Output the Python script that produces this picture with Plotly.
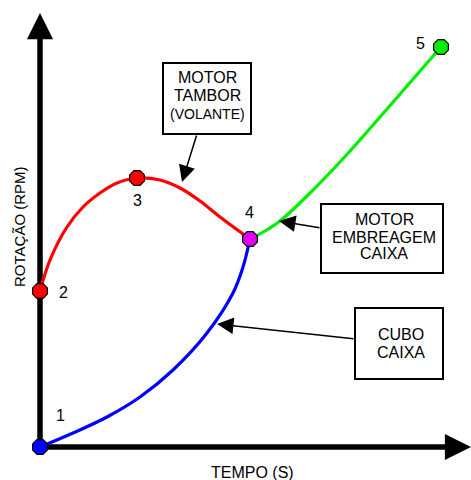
import plotly.graph_objects as go

# Curves (tempo, rotação)
red_t = [0, 10, 27, 43, 60, 77, 97, 120, 140, 160, 180, 210]
red_r = [156, 187, 220, 240, 254, 264, 269, 267, 259, 246, 230, 208]
blue_t = [0, 33, 67, 100, 133, 167, 193, 203, 210]
blue_r = [0, 14, 30, 50, 77, 114, 154, 180, 208]
green_t = [210, 225, 240, 267, 300, 333, 367, 401]
green_r = [208, 216, 226, 251, 285, 322, 361, 400]

# Numbered points
pt_labels = ["1", "2", "3", "4", "5"]
pt_t = [0, 0, 97, 210, 401]
pt_r = [0, 156, 269, 208, 400]
pt_colors = ["#0000FF", "#FF0000", "#FF0000", "#E000F0", "#00EE00"]
lbl_t = [20, 23, 97, 209, 380]
lbl_r = [32, 155, 247, 235, 404]

FONT = "Liberation Sans, Arial, sans-serif"

fig = go.Figure()
for t, r, c in [(red_t, red_r, "#FF0000"), (blue_t, blue_r, "#0000FF"), (green_t, green_r, "#00EE00")]:
    fig.add_trace(go.Scatter(x=t, y=r, mode="lines",
                             line=dict(color=c, width=3.2, shape="spline", smoothing=1.0),
                             hoverinfo="skip", cliponaxis=False))
fig.add_trace(go.Scatter(x=pt_t, y=pt_r, mode="markers",
                         marker=dict(size=16, color=pt_colors, symbol="octagon",
                                     line=dict(color="black", width=1.2)),
                         hoverinfo="skip", cliponaxis=False))

# axis lines
fig.add_shape(type="line", x0=0, y0=0, x1=0, y1=420, line=dict(color="black", width=5.5), layer="below")
fig.add_shape(type="line", x0=0, y0=0, x1=418, y1=0, line=dict(color="black", width=5.5), layer="below")
fig.add_annotation(x=0, y=434, ax=0, ay=410, xref="x", yref="y", axref="x", ayref="y",
                   showarrow=True, arrowhead=2, arrowwidth=5.5, arrowsize=0.95, arrowcolor="black", text="")
fig.add_annotation(x=431, y=0, ax=405, ay=0, xref="x", yref="y", axref="x", ayref="y",
                   showarrow=True, arrowhead=2, arrowwidth=5.5, arrowsize=0.95, arrowcolor="black", text="")

# axis titles
fig.add_annotation(x=-21, y=220, text="ROTAÇÃO (RPM)", textangle=-90, showarrow=False,
                   font=dict(family=FONT, size=15, color="black"))
fig.add_annotation(x=212, y=-25, text="TEMPO (S)", showarrow=False,
                   font=dict(family=FONT, size=16, color="black"))

# point labels
for s, t, r in zip(pt_labels, lbl_t, lbl_r):
    fig.add_annotation(x=t, y=r, text=s, showarrow=False, font=dict(family=FONT, size=16, color="black"))

# boxes
boxes = [(123, 313, 211, 384), (281, 174, 403, 243), (315, 68, 403, 139)]
for x0, y0, x1, y1 in boxes:
    fig.add_shape(type="rect", x0=x0, y0=y0, x1=x1, y1=y1, line=dict(color="black", width=2),
                  fillcolor="white")

box_texts = [
    ("MOTOR", 167, 370, 16), ("TAMBOR", 167, 352, 16), ("(VOLANTE)", 167, 333, 14),
    ("MOTOR", 344, 228, 16), ("EMBREAGEM", 344, 210, 16), ("CAIXA", 344, 194, 16),
    ("CUBO", 361, 113, 16), ("CAIXA", 361, 95, 16),
]
for s, t, r, fs in box_texts:
    fig.add_annotation(x=t, y=r, text=s, showarrow=False, font=dict(family=FONT, size=fs, color="black"))

# pointers
pointers = [((157, 313), (142, 265)), ((281, 219), (239, 226)), ((315, 108), (177, 123))]
for (tx, ty), (hx, hy) in pointers:
    fig.add_annotation(x=hx, y=hy, ax=tx, ay=ty, xref="x", yref="y", axref="x", ayref="y",
                       showarrow=True, arrowhead=2, arrowwidth=1.5, arrowsize=2.2,
                       arrowcolor="black", text="")

fig.update_layout(
    width=471, height=480, margin=dict(l=0, r=0, t=0, b=0),
    paper_bgcolor="white", plot_bgcolor="white", showlegend=False,
    xaxis=dict(range=[-40, 431], visible=False, fixedrange=True),
    yaxis=dict(range=[-33, 447], visible=False, fixedrange=True),
)
fig.write_html("out.html", config={"displayModeBar": False},
               post_script="document.body.style.margin='0';document.body.style.overflow='hidden';")
